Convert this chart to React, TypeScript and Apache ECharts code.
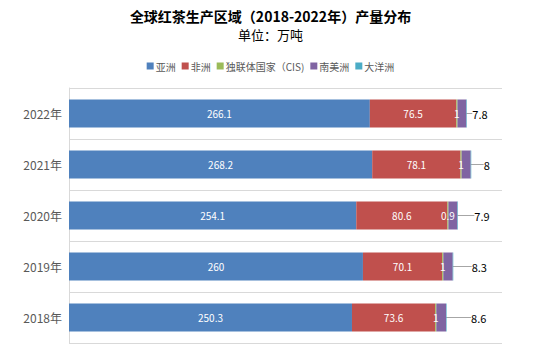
import React, { useEffect, useRef } from "react";
import * as echarts from "echarts";

const categories = ["2022年", "2021年", "2020年", "2019年", "2018年"];
const asia = [266.1, 268.2, 254.1, 260, 250.3];
const africa = [76.5, 78.1, 80.6, 70.1, 73.6];
const cis = [1, 1, 0.9, 1, 1];
const southAmerica = [7.8, 8, 7.9, 8.3, 8.6];
const oceania = [0.5, 0.5, 0.5, 0.5, 0.5];
const seriesNames = ["亚洲", "非洲", "独联体国家（CIS)", "南美洲", "大洋洲"];
const colors = ["#4F81BD", "#C0504D", "#9BBB59", "#8064A2", "#4BACC6"];
const saLabelOffsets = [0, 7, 11, 13, 19];

const FONT = "'Noto Sans CJK SC', 'Noto Sans', sans-serif";

export default function App() {
  const ref = useRef<HTMLDivElement>(null);
  useEffect(() => {
    if (!ref.current) return;
    const chart = echarts.init(ref.current, null, { renderer: "svg" });
    const inside = {
      show: true,
      position: "inside",
      color: "#fff",
      fontSize: 10,
      fontFamily: FONT,
    };
    const mk = (i: number, data: number[], extra: any = {}) => ({
      name: seriesNames[i],
      type: "bar",
      stack: "total",
      barWidth: 28,
      data,
      itemStyle: { color: colors[i] },
      label: inside,
      ...extra,
    });
    chart.setOption({
      animation: false,
      textStyle: { fontFamily: FONT },
      title: [
        {
          text: "全球红茶生产区域（2018-2022年）产量分布",
          left: "center",
          top: 8,
          padding: 0,
          textStyle: { fontSize: 14, lineHeight: 15, fontWeight: "bold", color: "#000", fontFamily: FONT },
        },
        {
          text: "单位：万吨",
          left: "center",
          top: 28,
          padding: 0,
          textStyle: { fontSize: 13, lineHeight: 13, fontWeight: "normal", color: "#000", fontFamily: FONT },
        },
      ],
      legend: {
        top: 56,
        left: "center",
        icon: "rect",
        itemWidth: 7,
        itemHeight: 7,
        itemGap: 6,
        textStyle: { fontSize: 10, color: "#595959", fontFamily: FONT, padding: [0, 0, 0, -3] },
        data: seriesNames,
      },
      grid: { left: 69, right: 39, top: 88, bottom: 18 },
      xAxis: {
        type: "value",
        min: 0,
        max: 383,
        axisLabel: { show: false },
        axisLine: { show: false },
        axisTick: { show: false },
        splitLine: { show: false },
      },
      yAxis: {
        type: "category",
        data: categories,
        inverse: true,
        axisLine: { show: true, lineStyle: { color: "#d9d9d9" } },
        axisTick: { show: false },
        axisLabel: { color: "#595959", fontSize: 12, margin: 7, fontFamily: FONT },
        splitLine: { show: true, lineStyle: { color: "#d9d9d9" } },
      },
      series: [
        mk(0, asia),
        mk(1, africa),
        mk(2, cis),
        mk(3, southAmerica, {
          label: {
            show: true,
            position: "right",
            distance: 3,
            padding: [0, 0, 0, 3],
            color: "#000",
            fontSize: 11,
            fontFamily: FONT,
          },
          labelLine: { show: true, lineStyle: { color: "#a6a6a6", width: 1 } },
          labelLayout: (params: any) => ({ dx: saLabelOffsets[params.dataIndex] }),
        }),
        mk(4, oceania, { label: { show: false } }),
      ],
    });
    return () => chart.dispose();
  }, []);
  return (
    <div
      ref={ref}
      style={{ position: "absolute", left: 0, top: 0, width: 541, height: 361 }}
    />
  );
}
